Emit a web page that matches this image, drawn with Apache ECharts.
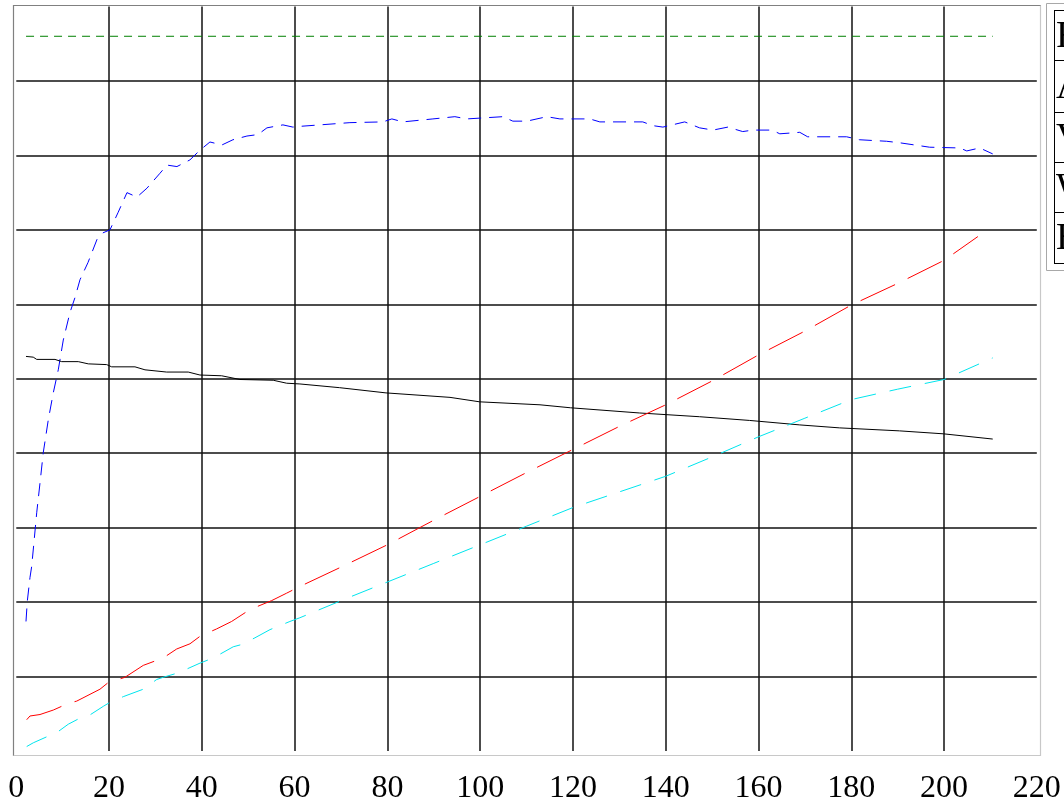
<!DOCTYPE html>
<html>
<head>
<meta charset="utf-8">
<script src="https://cdn.jsdelivr.net/npm/echarts@6/dist/echarts.min.js"></script>
<style>
html,body{margin:0;padding:0;background:#fff;}
#c{width:1064px;height:805px;}
</style>
</head>
<body>
<div id="c"></div>
<script>
// ---- data ----
const xTicks = [0, 20, 40, 60, 80, 100, 120, 140, 160, 180, 200, 220];
const legendNames = ["F", "A", "V", "W", "E"];

const fX = [2.1, 210.5];
const fY = [9.60, 9.60];

const aX = [2.09, 2.37, 2.95, 3.32, 4.40, 5.11, 5.82, 6.90, 7.97, 9.05, 10.13, 11.57, 12.65, 13.73, 15.45, 17.39, 18.69, 20.19, 21.92, 23.86, 26.01, 28.17, 30.97, 32.48, 34.63, 37.44, 39.59, 41.75, 44.33, 46.70, 49.72, 52.09, 54.03, 57.48, 59.63, 61.14, 71.92, 79.03, 80.97, 83.34, 89.81, 94.55, 97.14, 104.9, 107.05, 110.07, 114.38, 117.18, 123.64, 125.8, 135.06, 137.2, 139.4, 144.1, 147.3, 150.2, 153.4, 156.6, 158.8, 162.9, 164.6, 168.9, 170.6, 179.0, 181.8, 187.6, 190.4, 196.9, 203.4, 204.9, 207.7, 210.5];
const aY = [1.74, 2.01, 2.33, 2.48, 3.20, 3.60, 4.01, 4.45, 4.81, 5.12, 5.52, 5.89, 6.09, 6.33, 6.56, 6.87, 6.96, 7.00, 7.23, 7.50, 7.44, 7.56, 7.76, 7.87, 7.85, 7.94, 8.07, 8.18, 8.14, 8.21, 8.26, 8.28, 8.37, 8.41, 8.38, 8.39, 8.44, 8.45, 8.49, 8.45, 8.49, 8.52, 8.49, 8.52, 8.46, 8.46, 8.52, 8.49, 8.49, 8.45, 8.45, 8.40, 8.38, 8.45, 8.37, 8.34, 8.38, 8.32, 8.34, 8.34, 8.29, 8.31, 8.25, 8.25, 8.21, 8.19, 8.17, 8.11, 8.10, 8.06, 8.10, 8.02];

const vX = [2.09, 3.66, 4.40, 8.34, 9.78, 13.36, 15.52, 19.48, 20.56, 25.58, 27.74, 32.41, 37.07, 39.59, 44.27, 48.21, 55.39, 58.28, 61.14, 69.7, 79.7, 93.5, 99.9, 112.9, 119.5, 134.4, 147.3, 158.1, 168.9, 177.5, 190.4, 199.9, 210.5];
const vY = [5.30, 5.29, 5.26, 5.26, 5.23, 5.23, 5.20, 5.19, 5.16, 5.16, 5.12, 5.09, 5.09, 5.05, 5.04, 4.99, 4.98, 4.94, 4.93, 4.88, 4.81, 4.75, 4.69, 4.65, 4.61, 4.54, 4.49, 4.44, 4.38, 4.34, 4.30, 4.26, 4.19];

const wX = [2.24, 2.95, 5.11, 7.97, 11.21, 13.02, 18.04, 19.83, 23.43, 27.37, 31.68, 34.57, 37.44, 39.59, 43.19, 46.42, 50.37, 55.04, 58.28, 61.14, 70, 80, 90, 100, 110, 120, 130, 140, 150, 160, 170, 180, 190, 200, 207.3];
const wY = [0.42, 0.47, 0.49, 0.55, 0.64, 0.67, 0.83, 0.92, 0.99, 1.15, 1.25, 1.37, 1.44, 1.54, 1.64, 1.74, 1.90, 2.02, 2.12, 2.21, 2.47, 2.77, 3.10, 3.42, 3.74, 4.05, 4.36, 4.65, 4.97, 5.32, 5.64, 5.99, 6.28, 6.59, 6.91];

const eX = [2.24, 3.66, 6.90, 8.34, 11.21, 13.36, 15.52, 18.75, 19.83, 23.06, 27.37, 30.26, 31.68, 34.91, 39.59, 42.46, 46.77, 48.58, 51.44, 54.68, 58.99, 61.14, 72, 80, 90, 100, 110, 120, 130, 140, 150, 160, 170, 180, 190, 200, 210.5];
const eY = [0.06, 0.11, 0.20, 0.23, 0.36, 0.43, 0.47, 0.60, 0.64, 0.73, 0.83, 0.96, 0.99, 1.05, 1.18, 1.25, 1.40, 1.43, 1.52, 1.63, 1.74, 1.79, 2.07, 2.27, 2.52, 2.77, 3.02, 3.27, 3.48, 3.69, 3.95, 4.22, 4.47, 4.72, 4.86, 4.99, 5.28];

function pairs(xs, ys) { return xs.map((x, i) => [x, ys[i]]); }

const chart = echarts.init(document.getElementById('c'), null, {renderer: 'canvas'});

const FONT = "'Liberation Serif', 'DejaVu Serif', serif";

const rowYs = [10, 60, 112, 162, 212, 263];
const legendGraphics = [
  {type: 'rect', shape: {x: 1046.5, y: 3.5, width: 30, height: 267}, style: {fill: 'none', stroke: '#a8a8a8', lineWidth: 1}, silent: true},
  {type: 'line', shape: {x1: 1054.5, y1: 10, x2: 1054.5, y2: 263}, style: {stroke: '#000', lineWidth: 1}, silent: true}
].concat(rowYs.map(y => ({type: 'line', shape: {x1: 1054, y1: y + 0.5, x2: 1070, y2: y + 0.5}, style: {stroke: '#000', lineWidth: 1}, silent: true})))
 .concat(legendNames.map((n, i) => ({
    type: 'text', x: 1056, y: (rowYs[i] + rowYs[i + 1]) / 2 + 2, silent: true,
    style: {text: n, fill: '#000', font: "38px 'Liberation Serif', serif", textAlign: 'left', textVerticalAlign: 'middle'}
  })));

const borderGraphics = [
  {type: 'polyline', shape: {points: [[13.5, 756], [13.5, 5.5], [1041, 5.5]]}, style: {fill: 'none', stroke: '#808080', lineWidth: 1.2}, silent: true},
  {type: 'polyline', shape: {points: [[13.5, 755.5], [1040.5, 755.5], [1040.5, 5.5]]}, style: {fill: 'none', stroke: '#c8c8c8', lineWidth: 1.2}, silent: true}
];

function lineSeries(name, data, color, dash) {
  return {
    name: name, type: 'line', data: data, showSymbol: false, symbol: 'none',
    animation: false, silent: true,
    lineStyle: {color: color, width: 1, type: dash},
    itemStyle: {color: color}
  };
}

chart.setOption({
  animation: false,
  backgroundColor: '#fff',
  grid: {left: 16.3, right: 27.2, top: 6.5, bottom: 53.5, containLabel: false},
  xAxis: {
    type: 'value', min: 0, max: 220, interval: 20,
    axisLine: {show: false}, axisTick: {show: false},
    axisLabel: {fontFamily: FONT, fontSize: 32, color: '#000', margin: 22,
      formatter: v => (xTicks.indexOf(v) >= 0 ? String(v) : '')},
    splitLine: {show: true, showMinLine: false, showMaxLine: false, lineStyle: {color: '#111', width: 1.5}}
  },
  yAxis: {
    type: 'value', min: 0, max: 10, interval: 1,
    axisLine: {show: false}, axisTick: {show: false}, axisLabel: {show: false},
    splitLine: {show: true, showMinLine: false, showMaxLine: false, lineStyle: {color: '#111', width: 1.5}}
  },
  graphic: borderGraphics.concat(legendGraphics),
  series: [
    lineSeries('F', pairs(fX, fY), '#008000', [8, 6]),
    lineSeries('A', pairs(aX, aY), '#0000ff', [13, 8]),
    lineSeries('V', pairs(vX, vY), '#000000', 'solid'),
    lineSeries('W', pairs(wX, wY), '#ff0000', [38, 14]),
    lineSeries('E', pairs(eX, eY), '#00e5ee', [22, 14])
  ]
});
</script>
</body>
</html>
